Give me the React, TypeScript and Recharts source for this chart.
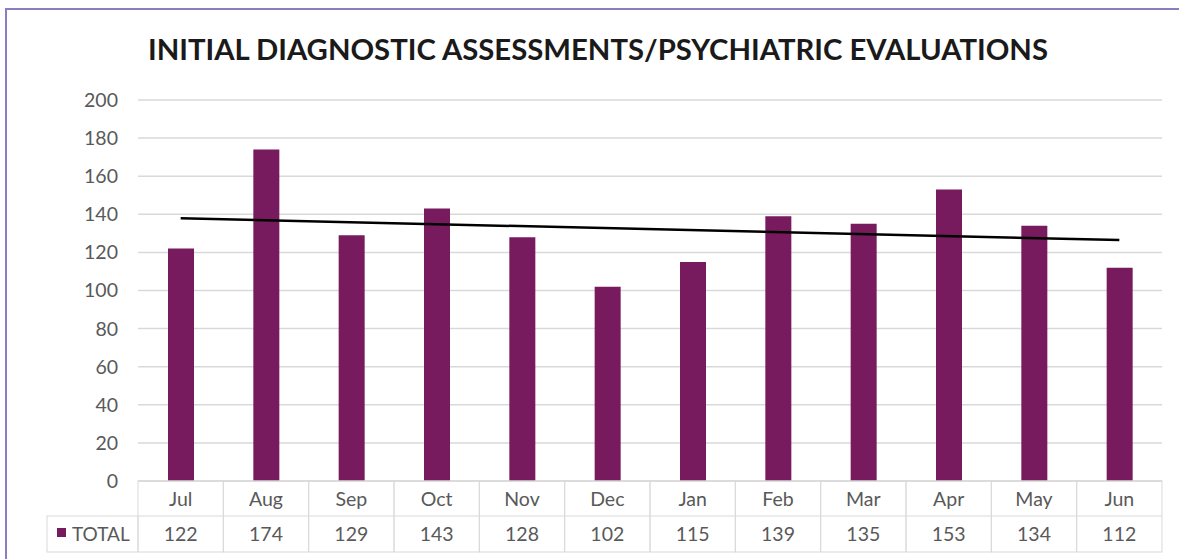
import React from "react";
import { Bar, CartesianGrid, ComposedChart, ReferenceLine, XAxis, YAxis } from "recharts";

const months = ["Jul", "Aug", "Sep", "Oct", "Nov", "Dec", "Jan", "Feb", "Mar", "Apr", "May", "Jun"];
const totals = [122, 174, 129, 143, 128, 102, 115, 139, 135, 153, 134, 112];
const yTicks = [0, 20, 40, 60, 80, 100, 120, 140, 160, 180, 200];
// linear trendline end points
const trendStart = 137.9;
const trendEnd = 126.5;

const data = months.map((month, i) => ({ month, total: totals[i] }));

const W = 1179;
const H = 559;
const PLOT_LEFT = 138;
const PLOT_RIGHT = 1162;
const CELL_W = (PLOT_RIGHT - PLOT_LEFT) / months.length;
const BAR_COLOR = "#781A5E";
const LINE_COLOR = "#d9d9d9";
const TEXT_COLOR = "#595959";
const FONT = "Lato, 'Open Sans', sans-serif";

function TableTick(props: any) {
  const { x, y, payload, index } = props;
  const left = x - CELL_W / 2;
  const r1 = 35;
  const r2 = 36;
  return (
    <g>
      <rect x={left} y={y} width={CELL_W} height={r1 + r2} fill="none" stroke={LINE_COLOR} />
      <line x1={left} x2={left + CELL_W} y1={y + r1} y2={y + r1} stroke={LINE_COLOR} />
      <text x={x} y={y + r1 / 2 + 7} textAnchor="middle" fontSize={19.5} fill={TEXT_COLOR} fontFamily={FONT}>
        {payload.value}
      </text>
      <text x={x} y={y + r1 + r2 / 2 + 7} textAnchor="middle" fontSize={19.5} fill={TEXT_COLOR} fontFamily={FONT}>
        {totals[index]}
      </text>
      {index === 0 && (
        <g>
          <rect x={47} y={y + r1} width={left - 47} height={r2} fill="none" stroke={LINE_COLOR} />
          <rect x={57} y={y + r1 + 12} width={9} height={9} fill={BAR_COLOR} />
          <text x={72} y={y + r1 + r2 / 2 + 7} fontSize={19} fill={TEXT_COLOR} fontFamily={FONT}>
            TOTAL
          </text>
        </g>
      )}
    </g>
  );
}

export default function App() {
  return (
    <div style={{ position: "relative", width: W, height: H, background: "#fff" }}>
      <style>{"body{margin:0}"}</style>
      <div
        style={{
          position: "absolute",
          left: 5,
          top: 8,
          width: W - 5,
          height: H - 8,
          borderTop: "2px solid #8e7cc3",
          borderLeft: "2px solid #8e7cc3",
          boxSizing: "border-box",
        }}
      />
      <svg style={{ position: "absolute", left: 0, top: 0 }} width={W} height={90}>
        <text
          x={598}
          y={60}
          textAnchor="middle"
          fontSize={29}
          fontWeight="bold"
          fill="#1a1a1a"
          fontFamily={FONT}
          textLength={900}
          lengthAdjust="spacingAndGlyphs"
        >
          INITIAL DIAGNOSTIC ASSESSMENTS/PSYCHIATRIC EVALUATIONS
        </text>
      </svg>
      <div style={{ position: "absolute", left: 0, top: 0 }}>
        <ComposedChart
          width={W}
          height={H}
          data={data}
          margin={{ top: 100, right: W - PLOT_RIGHT, bottom: 7, left: PLOT_LEFT - 60 }}
        >
          <CartesianGrid vertical={false} stroke={LINE_COLOR} strokeWidth={1.5} />
          <XAxis
            dataKey="month"
            height={71}
            tickLine={false}
            tickSize={0}
            tickMargin={0}
            axisLine={{ stroke: LINE_COLOR }}
            interval={0}
            tick={<TableTick />}
          />
          <YAxis
            width={60}
            domain={[0, 200]}
            ticks={yTicks}
            tickLine={false}
            axisLine={false}
            tickSize={0}
            tickMargin={20}
            tick={{ fontSize: 19.5, fill: TEXT_COLOR, fontFamily: FONT }}
          />
          <Bar dataKey="total" fill={BAR_COLOR} barSize={26} isAnimationActive={false} />
          <ReferenceLine
            segment={[
              { x: months[0], y: trendStart },
              { x: months[months.length - 1], y: trendEnd },
            ]}
            stroke="#000"
            strokeWidth={2.5}
          />
        </ComposedChart>
      </div>
    </div>
  );
}
